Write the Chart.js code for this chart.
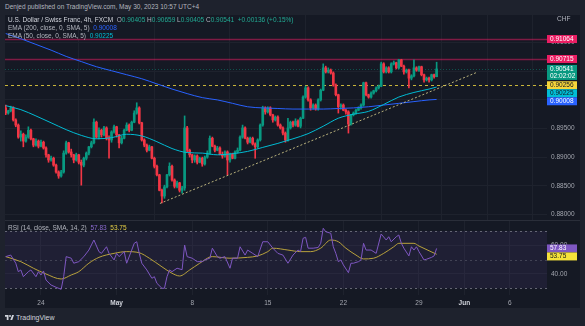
<!DOCTYPE html>
<html>
<head>
<meta charset="utf-8">
<script src="https://cdn.jsdelivr.net/npm/chart.js@4.4.0/dist/chart.umd.min.js"></script>
<style>
  html, body { margin: 0; padding: 0; background: #1e222d; }
  body { width: 585px; height: 326px; position: relative; overflow: hidden; font-family: "Liberation Sans", Arial, sans-serif; }
  #frame { position: absolute; left: 5px; top: 15px; width: 575px; height: 293px; background: #151924; }
  canvas { position: absolute; left: 5px; }
  #price { top: 15px; }
  #rsi { top: 220px; }
  .txt { position: absolute; font-size: 6.5px; line-height: 8px; color: #b2b5be; white-space: nowrap; z-index: 5; }
  .name { color: #d1d4dc; }
  .up { color: #22ab94; }
  .down { color: #f23645; }
  #logo { position: absolute; left: 5px; top: 313px; font-size: 7px; line-height: 9px; color: #d1d4dc; white-space: nowrap; }
  #logo svg { vertical-align: -1px; margin-right: 2px; }
</style>
</head>
<body>
<div id="frame"></div>
<canvas id="price" width="575" height="205"></canvas>
<canvas id="rsi" width="575" height="88"></canvas>

<div class="txt" style="left:5px;top:3px">Denjed published on TradingView.com, May 30, 2023 10:57 UTC+4</div>
<div class="txt" id="legend-main" style="left:8px;top:16px"></div>
<div class="txt" id="legend-ema200" style="left:8px;top:24px"></div>
<div class="txt" id="legend-ema50" style="left:8px;top:32px"></div>
<div class="txt" style="left:557px;top:15px">CHF</div>
<div class="txt" id="legend-rsi" style="left:8px;top:224px"></div>
<div id="logo"><svg width="9" height="7" viewBox="0 0 36 28"><path d="M14 24H7V11H0V4h14v20zM29 24h-8l7.5-20h7.5L29 24z" fill="#d1d4dc"/><circle cx="20" cy="8" r="4" fill="#d1d4dc"/></svg>TradingView</div>

<script>
// USD/CHF 4h candles, Apr 20 – May 30 2023 (index = 4h bar number)
const opens = [
  0.8986,0.8977,0.8981,0.8986,0.8965,0.8956,0.8935,0.8940,0.8928,0.8935,
  0.8947,0.8932,0.8921,0.8928,0.8919,0.8926,0.8916,0.8904,0.8895,0.8898,
  0.8886,0.8874,0.8867,0.8874,0.8907,0.8925,0.8909,0.8904,0.8895,0.8904,
  0.8891,0.8886,0.8898,0.8907,0.8918,0.8925,0.8961,0.8935,0.8947,0.8939,
  0.8951,0.8933,0.8930,0.8944,0.8953,0.8939,0.8925,0.8933,0.8947,0.8956,
  0.8947,0.8961,0.8977,0.8986,0.8960,0.8930,0.8921,0.8912,0.8918,0.8898,
  0.8884,0.8869,0.8842,0.8832,0.8848,0.8869,0.8884,0.8860,0.8849,0.8855,
  0.8842,0.8846,0.8951,0.8912,0.8904,0.8895,0.8902,0.8891,0.8898,0.8888,
  0.8900,0.8907,0.8933,0.8919,0.8912,0.8916,0.8905,0.8902,0.8909,0.8895,
  0.8905,0.8898,0.8909,0.8912,0.8935,0.8951,0.8933,0.8926,0.8933,0.8923,
  0.8918,0.8930,0.8956,0.8986,0.8979,0.8986,0.8974,0.8965,0.8970,0.8956,
  0.8951,0.8942,0.8930,0.8951,0.8961,0.8956,0.8963,0.8954,0.8968,0.9005,
  0.9021,0.9000,0.8986,0.8991,0.8984,0.9000,0.9017,0.9056,0.9049,0.9052,
  0.9047,0.9026,0.9009,0.8988,0.8991,0.8982,0.8979,0.8958,0.8974,0.8977,
  0.8982,0.8986,0.8991,0.9030,0.9009,0.9005,0.9012,0.9016,0.9021,0.9024,
  0.9063,0.9049,0.9056,0.9049,0.9063,0.9065,0.9056,0.9070,0.9059,0.9049,
  0.9052,0.9038,0.9042,0.9056,0.9052,0.9058,0.9044,0.9035,0.9038,0.9035,
  0.9044,0.90405
];
const highs = [
  0.8991,0.8982,0.8989,0.8988,0.8967,0.8958,0.8946,0.8942,0.8939,0.8953,
  0.8949,0.8933,0.8932,0.8930,0.8930,0.8928,0.8918,0.8905,0.8902,0.8900,
  0.8888,0.8876,0.8877,0.8911,0.8928,0.8926,0.8914,0.8905,0.8907,0.8905,
  0.8895,0.8900,0.8909,0.8919,0.8928,0.8967,0.8963,0.8951,0.8949,0.8954,
  0.8953,0.8937,0.8946,0.8956,0.8954,0.8940,0.8937,0.8949,0.8960,0.8958,
  0.8963,0.8981,0.8995,0.8988,0.8961,0.8932,0.8923,0.8921,0.8919,0.8900,
  0.8886,0.8870,0.8844,0.8851,0.8870,0.8890,0.8886,0.8862,0.8858,0.8856,
  0.8849,0.8972,0.8954,0.8914,0.8905,0.8904,0.8904,0.8900,0.8900,0.8902,
  0.8911,0.8937,0.8935,0.8921,0.8919,0.8918,0.8909,0.8911,0.8911,0.8907,
  0.8907,0.8911,0.8916,0.8937,0.8956,0.8953,0.8935,0.8935,0.8935,0.8925,
  0.8932,0.8958,0.8989,0.8988,0.8988,0.8988,0.8975,0.8972,0.8972,0.8958,
  0.8953,0.8944,0.8968,0.8963,0.8963,0.8967,0.8965,0.8970,0.9007,0.9024,
  0.9023,0.9002,0.8993,0.8993,0.9002,0.9019,0.9063,0.9059,0.9056,0.9054,
  0.9049,0.9028,0.9010,0.8993,0.8993,0.8984,0.8981,0.8975,0.8979,0.8984,
  0.8988,0.8993,0.9031,0.9031,0.9010,0.9014,0.9017,0.9023,0.9026,0.9066,
  0.9065,0.9058,0.9058,0.9065,0.9068,0.9066,0.9071,0.9071,0.9061,0.9054,
  0.9054,0.9044,0.9070,0.9058,0.9059,0.9059,0.9045,0.9040,0.9040,0.9045,
  0.9045,0.90659
];
const lows = [
  0.8974,0.8975,0.8979,0.8963,0.8953,0.8933,0.8928,0.8918,0.8926,0.8933,
  0.8930,0.8918,0.8919,0.8916,0.8918,0.8914,0.8900,0.8891,0.8893,0.8884,
  0.8872,0.8863,0.8865,0.8872,0.8905,0.8907,0.8900,0.8890,0.8893,0.8888,
  0.8851,0.8883,0.8895,0.8904,0.8916,0.8923,0.8933,0.8932,0.8935,0.8937,
  0.8930,0.8898,0.8926,0.8942,0.8935,0.8916,0.8923,0.8932,0.8946,0.8944,
  0.8946,0.8960,0.8975,0.8958,0.8928,0.8918,0.8909,0.8911,0.8897,0.8881,
  0.8867,0.8841,0.8820,0.8828,0.8846,0.8867,0.8858,0.8846,0.8846,0.8839,
  0.8837,0.8842,0.8909,0.8900,0.8890,0.8891,0.8888,0.8890,0.8884,0.8886,
  0.8898,0.8905,0.8918,0.8909,0.8911,0.8904,0.8898,0.8900,0.8869,0.8891,
  0.8897,0.8897,0.8907,0.8911,0.8933,0.8932,0.8923,0.8925,0.8921,0.8898,
  0.8916,0.8928,0.8954,0.8975,0.8977,0.8972,0.8961,0.8963,0.8954,0.8949,
  0.8939,0.8926,0.8928,0.8949,0.8953,0.8954,0.8953,0.8951,0.8967,0.9003,
  0.8998,0.8982,0.8984,0.8982,0.8982,0.8998,0.9016,0.9047,0.9047,0.9045,
  0.9024,0.9007,0.8977,0.8984,0.8981,0.8975,0.8942,0.8956,0.8972,0.8975,
  0.8981,0.8984,0.8989,0.9007,0.9003,0.9003,0.9010,0.9014,0.9019,0.9023,
  0.9047,0.9047,0.9047,0.9047,0.9061,0.9054,0.9054,0.9058,0.9045,0.9047,
  0.9021,0.9035,0.9040,0.9050,0.9050,0.9042,0.9031,0.9033,0.9031,0.9033,
  0.9038,0.90405
];
const closes = [
  0.8977,0.8981,0.8986,0.8965,0.8956,0.8935,0.8940,0.8928,0.8935,0.8947,
  0.8932,0.8921,0.8928,0.8919,0.8926,0.8916,0.8904,0.8895,0.8898,0.8886,
  0.8874,0.8867,0.8874,0.8907,0.8925,0.8909,0.8904,0.8895,0.8904,0.8891,
  0.8886,0.8898,0.8907,0.8918,0.8925,0.8961,0.8935,0.8947,0.8939,0.8951,
  0.8933,0.8930,0.8944,0.8953,0.8939,0.8925,0.8933,0.8947,0.8956,0.8947,
  0.8961,0.8977,0.8986,0.8960,0.8930,0.8921,0.8912,0.8918,0.8898,0.8884,
  0.8869,0.8842,0.8832,0.8848,0.8869,0.8884,0.8860,0.8849,0.8855,0.8842,
  0.8846,0.8951,0.8912,0.8904,0.8895,0.8902,0.8891,0.8898,0.8888,0.8900,
  0.8907,0.8933,0.8919,0.8912,0.8916,0.8905,0.8902,0.8909,0.8895,0.8905,
  0.8898,0.8909,0.8912,0.8935,0.8951,0.8933,0.8926,0.8933,0.8923,0.8918,
  0.8930,0.8956,0.8986,0.8979,0.8986,0.8974,0.8965,0.8970,0.8956,0.8951,
  0.8942,0.8930,0.8951,0.8961,0.8956,0.8963,0.8954,0.8968,0.9005,0.9021,
  0.9000,0.8986,0.8991,0.8984,0.9000,0.9017,0.9056,0.9049,0.9052,0.9047,
  0.9026,0.9009,0.8988,0.8991,0.8982,0.8979,0.8958,0.8974,0.8977,0.8982,
  0.8986,0.8991,0.9030,0.9009,0.9005,0.9012,0.9016,0.9021,0.9024,0.9063,
  0.9049,0.9056,0.9049,0.9063,0.9065,0.9056,0.9070,0.9059,0.9049,0.9052,
  0.9038,0.9042,0.9056,0.9052,0.9058,0.9044,0.9035,0.9038,0.9035,0.9044,
  0.90405,0.90541
];

// moving averages, sampled once a day
const emaIdx = [0,6,12,18,24,30,36,42,48,54,60,66,72,78,84,90,96,102,108,114,120,126,132,138,144,150,156,162,168,171];
const ema200 = [0.9116,0.9107,0.9097,0.9087,0.9076,0.9067,0.9058,0.9051,0.9044,0.9037,0.9028,0.9019,0.9011,0.9004,0.9000,
                0.8994,0.8988,0.8986,0.8985,0.8984,0.8984,0.8984,0.8985,0.8986,0.8988,0.8991,0.8994,0.8997,0.9000,0.90008];
const ema50  = [0.8990,0.8983,0.8972,0.8960,0.8948,0.8938,0.8932,0.8934,0.8940,0.8937,0.8927,0.8915,0.8908,0.8907,0.8904,
                0.8906,0.8910,0.8917,0.8924,0.8932,0.8941,0.8954,0.8968,0.8975,0.8980,0.8992,0.9005,0.9013,0.9019,0.90225];

// drawn levels
const resistanceLevels = [0.91064, 0.90715];
const zoneLevels = [0.90256];
const trendIdx = [61.2, 186.9];
const trendPrice = [0.8819, 0.9048];

// RSI (14) and its SMA (14)
const rsiIdx = [0,2,4,5,6,7,9,10,12,13,14,15,16,18,20,22,23,24,26,27,29,31,33,35,37,38,40,41,43,44,45,47,48,50,51,52,53,54,56,58,
  59,60,62,63,64,65,66,68,70,71,72,74,76,78,79,81,82,84,85,87,89,90,92,93,95,96,98,100,102,104,106,108,110,112,114,116,117,118,119,120,
  122,124,125,126,127,129,130,131,132,133,134,136,137,138,140,141,142,143,145,147,149,151,152,153,155,156,157,158,160,161,162,163,164,166,167,169,170,171];
const rsiVals = [52.1,53.2,47.5,41.6,42.8,38.1,41.6,42.8,38.1,41.6,39.3,42.1,35.8,32.3,30.7,29.3,38.1,52.1,51,47.5,48.6,52.1,56.7,63.7,55.6,54.4,59,54.4,49.8,54.4,
  52.1,55.6,47.5,56.7,61.4,62.5,54.4,47.5,42.8,37,38.1,33.5,30,30,38.1,42.8,41.6,44,43,60.2,52.1,51,48.6,48.6,49.8,51,58,52.1,51,52.1,
  44,51,51,59,53.2,56.7,54.4,52.1,62.5,62.5,58,54.4,53.2,47.5,53.2,56.7,55.6,64.9,65.6,58,58,58.5,61.4,71.9,69.5,68.4,59,54.4,48.6,49.8,
  46.3,40.9,47.5,47.5,48.6,49.8,61.4,56.7,56.7,54.4,67.9,63.7,66,62.5,66,67.2,61.4,58,52.6,59,56.7,59,55.6,49.8,50.3,51.6,52.6,57.83];
const maIdx = [0,6,11,16,22,26,29,33,37,43,48,53,57,62,66,69,73,77,82,89,96,100,104,106,112,117,121,125,129,132,135,139,142,146,150,154,156,162,164,168,171];
const maVals = [52.1,48.6,44,40,36.5,39.3,41.6,47.5,51.6,54.4,55.6,54.8,51,45,40.5,38.6,42.8,47.5,52.1,51,51.6,52.6,55.6,58,56.7,55.6,
  55.6,58,63.7,62.5,58,53.2,50.5,51,54.4,59,61.4,61.4,59.5,56.2,53.75];
const rsiTicks = [40, 60];
const priceTicks = [0.880, 0.885, 0.890, 0.895, 0.900, 0.905, 0.910];

// time axis: bar index of each label
const weekTicks = [14, 44, 74, 104, 134, 164, 182, 200];
const weekLabels = ['24', 'May', '8', '15', '22', '29', 'Jun', '6'];

const UP = '#089981', DOWN = '#f23645';
const GRID = '#1e222d';
const X_MIN = -0.28, X_MAX = 214.8;
const FONT = '"Liberation Sans", Arial, sans-serif';

Chart.defaults.font.family = FONT;
Chart.defaults.font.size = 6.5;

const last = closes.length - 1;
const candleColors = closes.map((c, i) => c >= opens[i] ? UP : DOWN);

// legends
const f5 = v => v.toFixed(5);
const chg = closes[last] - closes[last - 1];
const cls = chg >= 0 ? 'up' : 'down';
document.getElementById('legend-main').innerHTML =
  `<span class="name">U.S. Dollar / Swiss Franc, 4h, FXCM</span>&nbsp; O<span class="${cls}">${f5(opens[last])}</span>&nbsp;` +
  `H<span class="${cls}">${f5(highs[last])}</span>&nbsp;L<span class="${cls}">${f5(lows[last])}</span>&nbsp;` +
  `C<span class="${cls}">${f5(closes[last])}</span>&nbsp; <span class="${cls}">${chg >= 0 ? '+' : ''}${f5(chg)} (${chg >= 0 ? '+' : ''}${(chg / closes[last - 1] * 100).toFixed(2)}%)</span>`;
document.getElementById('legend-ema200').innerHTML =
  `EMA (200, close, 0, SMA, 5)&nbsp; <span style="color:#2962ff">${f5(ema200[ema200.length - 1])}</span>`;
document.getElementById('legend-ema50').innerHTML =
  `EMA (50, close, 0, SMA, 5)&nbsp; <span style="color:#00bcd4">${f5(ema50[ema50.length - 1])}</span>`;
document.getElementById('legend-rsi').innerHTML =
  `RSI (14, close, SMA, 14, 2)&nbsp; <span style="color:#8c6bd1">${rsiVals[rsiVals.length - 1].toFixed(2)}</span>&nbsp; ` +
  `<span style="color:#e5cf45">${maVals[maVals.length - 1].toFixed(2)}</span>`;

// price tags on the right axis, pushed down when they overlap
function drawTags(chart, tags) {
  const { ctx, chartArea: a, scales: { y } } = chart;
  const items = tags.map(t => ({ ...t, cy: y.getPixelForValue(t.v) })).sort((p, q) => p.cy - q.cy);
  let bottom = -Infinity;
  ctx.save();
  ctx.font = '6.5px ' + FONT;
  ctx.textBaseline = 'middle';
  items.forEach(t => {
    const h = t.sub ? 15 : 8;
    const top = Math.max(t.cy - 4, bottom);
    bottom = top + h;
    ctx.fillStyle = t.bg;
    ctx.fillRect(a.right, top, 30, h);
    ctx.fillStyle = t.fg;
    ctx.fillText(t.text, a.right + 3, top + 4.2);
    if (t.sub) ctx.fillText(t.sub, a.right + 3, top + 11);
  });
  ctx.restore();
}

function hline(chart, v, color, width, dash) {
  const { ctx, chartArea: a, scales: { y } } = chart;
  const py = Math.round(y.getPixelForValue(v)) + 0.5;
  ctx.strokeStyle = color;
  ctx.lineWidth = width;
  ctx.setLineDash(dash);
  ctx.beginPath();
  ctx.moveTo(a.left, py);
  ctx.lineTo(a.right, py);
  ctx.stroke();
}

const priceOverlay = {
  id: 'priceOverlay',
  beforeDatasetsDraw(chart) {
    const { ctx, chartArea: a } = chart;
    ctx.save();
    ctx.beginPath();
    ctx.rect(a.left, a.top, a.width, a.height);
    ctx.clip();
    resistanceLevels.forEach(v => hline(chart, v, 'rgba(233,30,99,0.5)', 1.5, []));
    zoneLevels.forEach(v => hline(chart, v, '#c9b53a', 1, [3, 3]));
    hline(chart, closes[last], 'rgba(8,153,129,0.45)', 1, [1, 2]);
    ctx.restore();
  },
  afterDraw(chart) {
    const tags = [
      ...resistanceLevels.map(v => ({ v, text: f5(v), bg: '#e91e63', fg: '#ffffff' })),
      { v: closes[last], text: f5(closes[last]), sub: '02:02:02', bg: UP, fg: '#ffffff' },
      ...zoneLevels.map(v => ({ v, text: f5(v), bg: '#f5d53a', fg: '#131722' })),
      { v: ema50[ema50.length - 1], text: f5(ema50[ema50.length - 1]), bg: '#00bcd4', fg: '#131722' },
      { v: ema200[ema200.length - 1], text: f5(ema200[ema200.length - 1]), bg: '#2962ff', fg: '#ffffff' }
    ];
    drawTags(chart, tags);
  }
};

const rsiOverlay = {
  id: 'rsiOverlay',
  beforeDatasetsDraw(chart) {
    const { ctx, chartArea: a, scales: { y } } = chart;
    const top = y.getPixelForValue(70), bot = y.getPixelForValue(30);
    ctx.save();
    ctx.fillStyle = 'rgba(126,87,194,0.1)';
    ctx.fillRect(a.left, top, a.width, bot - top);
    hline(chart, 70, 'rgba(120,123,134,0.8)', 1, [2, 3]);
    hline(chart, 30, 'rgba(120,123,134,0.8)', 1, [2, 3]);
    hline(chart, 50, 'rgba(120,123,134,0.4)', 1, [2, 3]);
    ctx.restore();
  },
  afterDraw(chart) {
    const { ctx } = chart;
    ctx.save();
    ctx.strokeStyle = '#2a2e39';
    ctx.lineWidth = 1;
    ctx.beginPath();
    ctx.moveTo(0, 0.5);
    ctx.lineTo(chart.width, 0.5);
    ctx.stroke();
    ctx.restore();
    drawTags(chart, [
      { v: rsiVals[rsiVals.length - 1], text: rsiVals[rsiVals.length - 1].toFixed(2), bg: '#7e57c2', fg: '#ffffff' },
      { v: maVals[maVals.length - 1], text: maVals[maVals.length - 1].toFixed(2), bg: '#f5e13a', fg: '#131722' }
    ]);
  }
};

const xAxis = (showLabels) => ({
  type: 'linear',
  min: X_MIN,
  max: X_MAX,
  offset: false,
  afterBuildTicks: s => { s.ticks = weekTicks.map(v => ({ value: v })); },
  ticks: {
    display: showLabels,
    autoSkip: false,
    maxRotation: 0,
    padding: 4,
    callback: (v, k) => weekLabels[k],
    color: c => isNaN(weekLabels[c.index]) ? '#d1d4dc' : '#a3a6af',
    font: c => ({ size: 6.5, weight: isNaN(weekLabels[c.index]) ? 'bold' : 'normal' })
  },
  grid: { color: GRID, drawTicks: false },
  border: { display: false },
  afterFit: s => { s.height = showLabels ? 13 : 0; s.paddingLeft = 0; s.paddingRight = 0; }
});

const yAxis = (min, max, ticks, fmt) => ({
  position: 'right',
  min, max,
  afterBuildTicks: s => { s.ticks = ticks.map(v => ({ value: v })); },
  ticks: { callback: fmt, color: '#a3a6af', padding: 4 },
  grid: { color: GRID, drawTicks: false },
  border: { display: false },
  afterFit: s => { s.width = 33; s.paddingTop = 0; s.paddingBottom = 0; }
});

const common = {
  responsive: false,
  animation: false,
  events: [],
  layout: { padding: 0 },
  plugins: { legend: { display: false }, tooltip: { enabled: false } }
};

new Chart(document.getElementById('price'), {
  type: 'bar',
  data: {
    datasets: [
      { type: 'line', data: trendIdx.map((x, k) => ({ x, y: trendPrice[k] })), borderColor: 'rgba(214,205,140,0.85)',
        borderWidth: 1, borderDash: [2, 2], pointRadius: 0, order: 0 },
      { type: 'line', data: emaIdx.map((x, k) => ({ x, y: ema50[k] })), borderColor: '#00bcd4', borderWidth: 1,
        pointRadius: 0, cubicInterpolationMode: 'monotone', order: 1 },
      { type: 'line', data: emaIdx.map((x, k) => ({ x, y: ema200[k] })), borderColor: '#2962ff', borderWidth: 1,
        pointRadius: 0, cubicInterpolationMode: 'monotone', order: 1 },
      { data: closes.map((c, i) => ({ x: i, y: [opens[i], c] })), backgroundColor: candleColors,
        barThickness: 2, minBarLength: 1, grouped: false, order: 2 },
      { data: closes.map((c, i) => ({ x: i, y: [lows[i], highs[i]] })), backgroundColor: candleColors,
        barThickness: 1, grouped: false, order: 3 }
    ]
  },
  options: {
    ...common,
    scales: {
      x: xAxis(false),
      y: yAxis(0.87901, 0.91484, priceTicks, v => v.toFixed(5))
    }
  },
  plugins: [priceOverlay]
});

new Chart(document.getElementById('rsi'), {
  type: 'line',
  data: {
    datasets: [
      { data: maIdx.map((x, k) => ({ x, y: maVals[k] })), borderColor: '#b9a23c', borderWidth: 1, pointRadius: 0,
        cubicInterpolationMode: 'monotone', order: 1 },
      { data: rsiIdx.map((x, k) => ({ x, y: rsiVals[k] })), borderColor: '#7e57c2', borderWidth: 1, pointRadius: 0,
        tension: 0, order: 0 }
    ]
  },
  options: {
    ...common,
    scales: {
      x: xAxis(true),
      y: yAxis(25.32, 77.68, rsiTicks, v => v.toFixed(2))
    }
  },
  plugins: [rsiOverlay]
});
</script>
</body>
</html>
